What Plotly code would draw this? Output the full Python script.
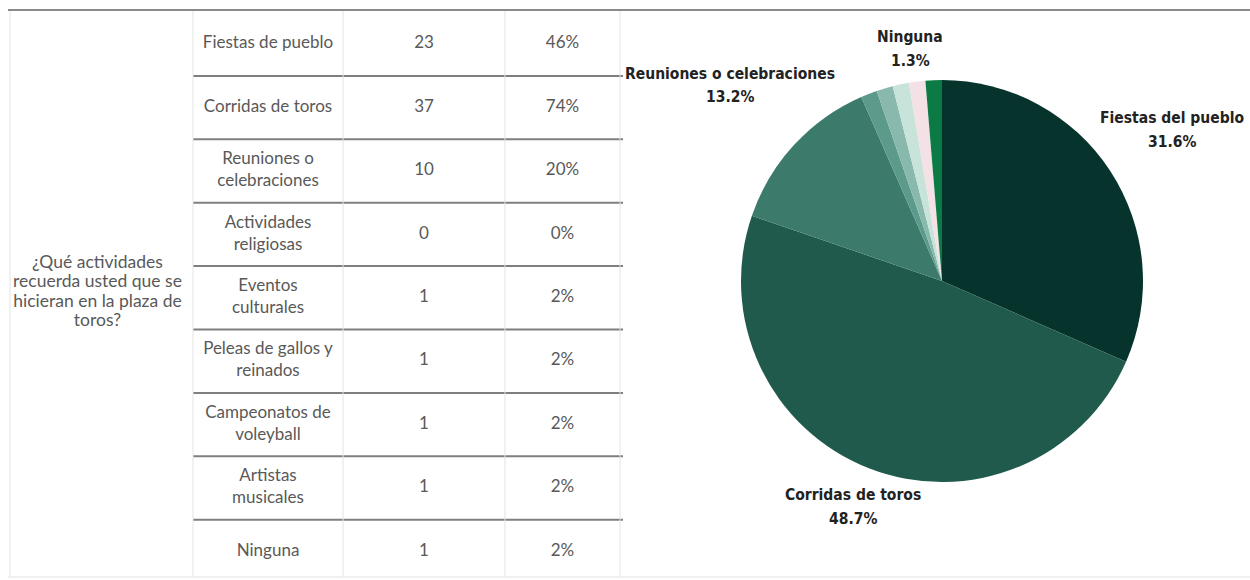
import plotly.graph_objects as go

# ---- survey data ----
QUESTION_LINES = ["¿Qué actividades", "recuerda usted que se", "hicieran en la plaza de", "toros?"]
RESPONDENTS = 50

table_labels = [
    "Fiestas de pueblo",
    "Corridas de toros",
    "Reuniones o<br>celebraciones",
    "Actividades<br>religiosas",
    "Eventos<br>culturales",
    "Peleas de gallos y<br>reinados",
    "Campeonatos de<br>voleyball",
    "Artistas<br>musicales",
    "Ninguna",
]
table_counts = [23, 37, 10, 0, 1, 1, 1, 1, 1]

pie_labels = [
    "Fiestas del pueblo",
    "Corridas de toros",
    "Reuniones o celebraciones",
    "Actividades religiosas",
    "Eventos culturales",
    "Peleas de gallos y reinados",
    "Campeonatos de voleyball",
    "Artistas musicales",
    "Ninguna",
]
pie_values = [24, 37, 10, 0, 1, 1, 1, 1, 1]
pie_colors = ["#06332b", "#1f5a4d", "#3c7a6c", "#3c7a6c", "#5c9a8b",
              "#89b9ad", "#c7e3da", "#f4e1e6", "#0c7a45"]
# slices that get an outside label
labelled = ["Ninguna", "Reuniones o celebraciones", "Fiestas del pueblo", "Corridas de toros"]

# ---- layout constants (pixels) ----
W, H = 1250, 580
ROW_TOP, ROW_H = 12.5, 63.4
COL_EDGES = [10, 193, 343, 505, 620]
TEXT_FONT = "Lato, Open Sans, sans-serif"
TEXT_COLOR = "#595959"
LABEL_FONT = "DejaVu Sans Condensed, Liberation Sans Narrow, sans-serif"

fig = go.Figure()

n = len(table_labels)
row_y = [ROW_TOP + (i + 0.5) * ROW_H for i in range(n)]
col_x = [(COL_EDGES[c] + COL_EDGES[c + 1]) / 2 for c in range(1, 4)]
pct_text = [f"{round(c / RESPONDENTS * 100)}%" for c in table_counts]

for cx, texts in zip(col_x, [table_labels, [str(c) for c in table_counts], pct_text]):
    fig.add_trace(go.Scatter(
        x=[cx] * n, y=row_y, text=texts, mode="text",
        textfont=dict(family=TEXT_FONT, size=17, color=TEXT_COLOR),
        hoverinfo="skip", showlegend=False, xaxis="x", yaxis="y",
    ))

# merged question cell, one line at a time for tighter leading
q_mid = ROW_TOP + n * ROW_H / 2 - 5
q_step = 19.5
q_y = [q_mid + (k - (len(QUESTION_LINES) - 1) / 2) * q_step for k in range(len(QUESTION_LINES))]
fig.add_trace(go.Scatter(
    x=[(COL_EDGES[0] + COL_EDGES[1]) / 2 - 4] * len(QUESTION_LINES), y=q_y,
    text=QUESTION_LINES, mode="text",
    textfont=dict(family=TEXT_FONT, size=17.5, color=TEXT_COLOR),
    hoverinfo="skip", showlegend=False,
))

shapes = []
# horizontal separators between rows (columns 2-4)
for i in range(1, n):
    yy = ROW_TOP + i * ROW_H
    shapes.append(dict(type="line", xref="x", yref="y", x0=COL_EDGES[1], x1=COL_EDGES[-1] + 3,
                       y0=yy, y1=yy, line=dict(color="#7f7f7f", width=2)))
# light vertical grid lines
for xe in COL_EDGES:
    shapes.append(dict(type="line", xref="x", yref="y", x0=xe, x1=xe, y0=11, y1=577,
                       line=dict(color="#e3e3e3", width=1)))
# bottom border and top rule
shapes.append(dict(type="line", xref="paper", yref="y", x0=8 / W, x1=1, y0=577, y1=577,
                   line=dict(color="#ececec", width=1.5)))
shapes.append(dict(type="line", xref="paper", yref="y", x0=8 / W, x1=1, y0=10, y1=10,
                   line=dict(color="#8a8a8a", width=2)))

# ---- pie ----
cx_pie, cy_pie, r_pie = 942, 281, 201
fig.add_trace(go.Pie(
    labels=pie_labels, values=pie_values, sort=False, direction="clockwise", rotation=0,
    marker=dict(colors=pie_colors, line=dict(width=0)),
    textinfo="none", showlegend=False, hole=0,
    domain=dict(x=[(cx_pie - 212) / W, (cx_pie + 212) / W],
                y=[1 - (cy_pie + r_pie) / H, 1 - (cy_pie - r_pie) / H]),
))

total = sum(pie_values)
# (x centre, y of name line, y of percentage line)
label_pos = {
    "Ninguna": (910, 37, 61),
    "Reuniones o celebraciones": (730, 74, 97),
    "Fiestas del pueblo": (1172, 118, 142),
    "Corridas de toros": (853, 495, 519),
}
annotations = []
for name in labelled:
    v = pie_values[pie_labels.index(name)]
    px, py1, py2 = label_pos[name]
    for txt, py in ((name, py1), (f"{v / total * 100:.1f}%", py2)):
        annotations.append(dict(
            x=px / W, y=1 - py / H, xref="paper", yref="paper",
            xanchor="center", yanchor="middle", text=txt, showarrow=False,
            font=dict(family=LABEL_FONT, size=15.5, color="#222222", weight="bold"),
        ))

fig.update_layout(
    width=W, height=H, margin=dict(l=0, r=0, t=0, b=0),
    paper_bgcolor="white", plot_bgcolor="white",
    xaxis=dict(domain=[0, 0.5], range=[0, 625], visible=False, fixedrange=True),
    yaxis=dict(domain=[0, 1], range=[H, 0], visible=False, fixedrange=True),
    shapes=shapes, annotations=annotations,
)

fig.write_html("out.html")
